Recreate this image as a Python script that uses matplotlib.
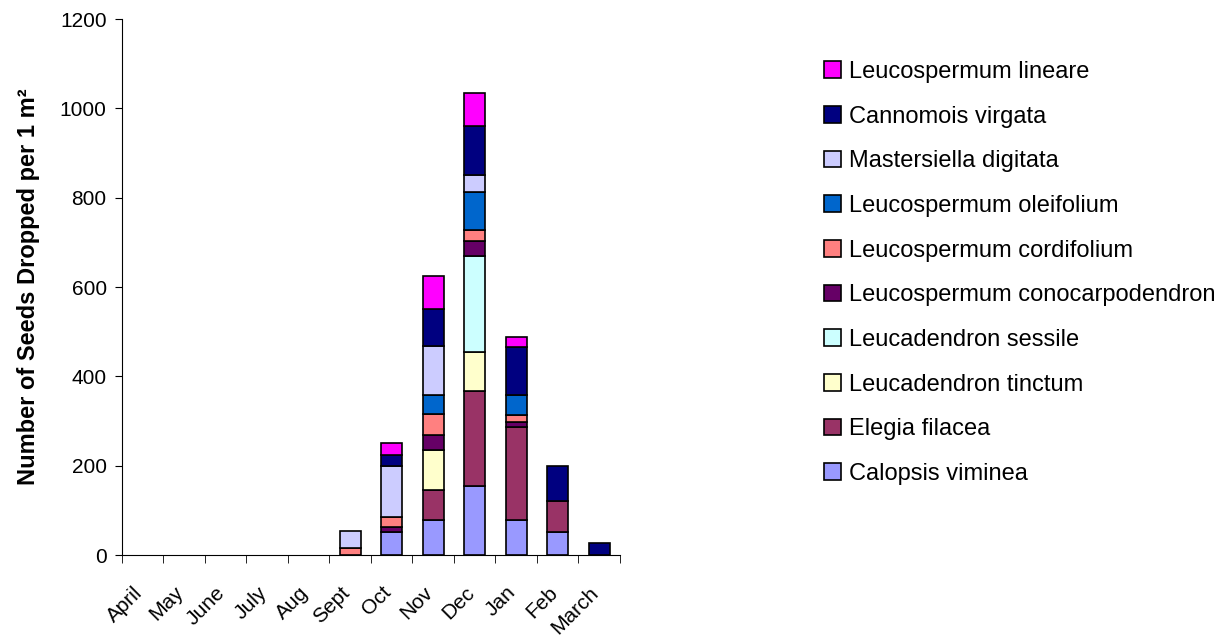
import numpy as np
import matplotlib.pyplot as plt
import matplotlib.transforms as mtransforms

plt.rcParams['font.family'] = ['Liberation Sans', 'DejaVu Sans']

# monthly seed drop per species
months = ['April', 'May', 'June', 'July', 'Aug', 'Sept', 'Oct', 'Nov', 'Dec', 'Jan', 'Feb', 'March']
species = ['Calopsis viminea', 'Elegia filacea', 'Leucadendron tinctum', 'Leucadendron sessile',
           'Leucospermum conocarpodendron', 'Leucospermum cordifolium', 'Leucospermum oleifolium',
           'Mastersiella digitata', 'Cannomois virgata', 'Leucospermum lineare']
calopsis = [0, 0, 0, 0, 0, 0, 52, 79, 155, 79, 51, 0]
elegia = [0, 0, 0, 0, 0, 0, 0, 66, 212, 208, 71, 0]
tinctum = [0, 0, 0, 0, 0, 0, 0, 90, 87, 0, 0, 0]
sessile = [0, 0, 0, 0, 0, 0, 0, 0, 216, 0, 0, 0]
conocarpodendron = [0, 0, 0, 0, 0, 0, 10, 34, 34, 10, 0, 0]
cordifolium = [0, 0, 0, 0, 0, 16, 24, 46, 23, 16, 0, 0]
oleifolium = [0, 0, 0, 0, 0, 0, 0, 43, 87, 45, 0, 0]
mastersiella = [0, 0, 0, 0, 0, 37, 113, 111, 37, 0, 0, 0]
cannomois = [0, 0, 0, 0, 0, 0, 25, 81, 109, 108, 77, 26]
lineare = [0, 0, 0, 0, 0, 0, 27, 75, 74, 23, 0, 0]
series = [calopsis, elegia, tinctum, sessile, conocarpodendron, cordifolium,
          oleifolium, mastersiella, cannomois, lineare]
colors = ['#9999FF', '#993366', '#FFFFCC', '#CCFFFF', '#660066',
          '#FF8080', '#0066CC', '#CCCCFF', '#000080', '#FF00FF']

fig = plt.figure(figsize=(12.22, 6.38), dpi=100)
ax = fig.add_axes([0.0998, 0.130, 0.4075, 0.840])

x = np.arange(len(months))
bottom = np.zeros(len(months))
handles = []
for name, vals, c in zip(species, series, colors):
    vals = np.array(vals, dtype=float)
    m = vals > 0
    h = ax.bar(x[m], vals[m], 0.5, bottom=bottom[m], color=c,
               edgecolor='black', linewidth=1.2, label=name)
    handles.append(h)
    bottom += vals

ax.set_xlim(-0.5, 11.5)
ax.set_ylim(0, 1200)
ax.set_yticks(range(0, 1201, 200))
ax.tick_params(axis='y', labelsize=15, length=5, direction='out', pad=6)

# labels at category centres, tick marks at boundaries
ax.set_xticks(x)
ax.set_xticklabels(months, rotation=45, ha='right', rotation_mode='anchor', fontsize=15)
ax.tick_params(axis='x', which='major', length=0, pad=20)
ax.set_xticks(np.arange(-0.5, 12, 1), minor=True)
ax.tick_params(axis='x', which='minor', length=6, direction='out')
shift = mtransforms.ScaledTranslation(-10 / 100, 0, fig.dpi_scale_trans)
for lab in ax.get_xticklabels():
    lab.set_transform(lab.get_transform() + shift)

for s in ['top', 'right']:
    ax.spines[s].set_visible(False)

ax.set_ylabel('Number of Seeds Dropped per 1 m²', fontsize=17, fontweight='bold', labelpad=14)

ax.legend(handles[::-1], species[::-1], loc='upper left', bbox_to_anchor=(824 / 1222, 1 - 61 / 638),
          bbox_transform=fig.transFigure, frameon=False, fontsize=17,
          handlelength=0.7, handleheight=0.7, handletextpad=0.35,
          labelspacing=0.96, borderpad=0, borderaxespad=0)

plt.savefig('out.png')
